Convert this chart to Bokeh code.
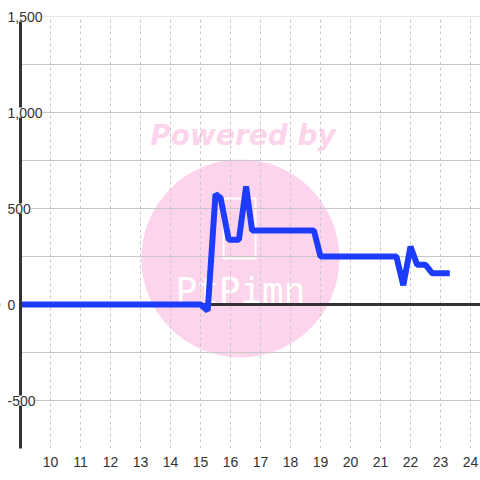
from bokeh.plotting import figure
from bokeh.models import Range1d, FixedTicker, Grid, Span, Label, LinearAxis, BoxAnnotation
from bokeh.core.properties import value
from bokeh.embed import file_html
from bokeh.resources import INLINE

# ---- data ----
x_vals = [9.0, 15.0, 15.24, 15.5, 15.67, 15.94, 16.28, 16.52, 16.72, 18.78,
          19.0, 21.53, 21.76, 22.0, 22.22, 22.5, 22.72, 23.31]
y_vals = [0, 0, -32, 575, 555, 337, 337, 615, 385, 385,
          250, 250, 100, 302, 207, 207, 163, 163]
x_ticks = list(range(10, 25))
y_ticks = [-750, -500, -250, 0, 250, 500, 750, 1000, 1250, 1500]
y_label_ticks = [1500, 1000, 500, 0, -500]
y_label_texts = ["1,500", "1,000", "500", "0", "-500"]
X_MIN, X_MAX = 9, 9 + 460 / 30
Y_MIN, Y_MAX = -750, 1500

PINK = "#fcd5ec"
BLUE = "#1e3cff"
GRID = "#c8c8c8"
DARK = "#333333"

PX_Y = 432 / (Y_MAX - Y_MIN)
p = figure(width=480, height=480, output_backend="svg", toolbar_location=None,
           x_range=Range1d(X_MIN - 20 / 30, X_MAX),
           y_range=Range1d(Y_MIN, Y_MAX + 16 / PX_Y),
           x_axis_location=None, y_axis_location=None,
           min_border_left=0, min_border_right=0, min_border_top=0, min_border_bottom=32)
p.outline_line_color = None
p.background_fill_color = "white"
p.border_fill_color = "white"
for g in list(p.center):
    if isinstance(g, Grid):
        p.center.remove(g)

xaxis = LinearAxis(ticker=FixedTicker(ticks=x_ticks))
xaxis.axis_line_color = None
xaxis.major_tick_line_color = None
xaxis.minor_tick_line_color = None
xaxis.major_label_standoff = 2
xaxis.major_label_text_font = "Liberation Sans"
xaxis.major_label_text_font_size = "14px"
xaxis.major_label_text_color = DARK
p.add_layout(xaxis, "below")

p.add_layout(Grid(dimension=0, ticker=FixedTicker(ticks=x_ticks),
                  grid_line_color=GRID, grid_line_dash="3 3", grid_line_width=1))
p.add_layout(Grid(dimension=1, ticker=FixedTicker(ticks=y_ticks),
                  grid_line_color=GRID, grid_line_width=1))

# ---- watermark ----
wm_c = p.scatter(x=[16.33], y=[240], size=198, marker="circle",
                 fill_color=PINK, line_color=None)
wm_c.level = "image"
wm_r = p.rect(x=[16.3], y=[396], width=32, height=60, width_units="screen",
              height_units="screen", fill_color=None, line_color="white", line_width=2)
wm_r.level = "image"
wm_t1 = p.text(x=[16.42], y=[880], text=["Powered by"], text_align="center",
               text_baseline="alphabetic", text_font=value("DejaVu Sans"),
               text_font_style="bold italic", text_font_size="28px", text_color=PINK)
wm_t1.level = "image"
wm_t2 = p.text(x=[16.33], y=[73], text=["PtPimn"], text_align="center",
               text_baseline="middle", text_font=value("DejaVu Sans Mono"),
               text_font_size="36px", text_color="white")
wm_t2.level = "image"

# mask grid outside the plotting area (left strip and top strip)
p.add_layout(BoxAnnotation(bottom=Y_MAX, fill_color="white", fill_alpha=1,
                           line_color=None, level="underlay"))
p.add_layout(Span(location=0, dimension="width", line_color=DARK, line_width=3, level="underlay"))
p.add_layout(BoxAnnotation(right=X_MIN, fill_color="white", fill_alpha=1,
                           line_color=None, level="underlay"))

p.line(x_vals, y_vals, line_color=BLUE, line_width=6, line_join="bevel")

yaxis_line = p.segment(x0=[X_MIN], y0=[Y_MIN], x1=[X_MIN], y1=[Y_MAX],
                       line_color=DARK, line_width=3)
yaxis_line.level = "guide"
for t, s in zip(y_label_ticks, y_label_texts):
    p.add_layout(Label(x=X_MIN, y=t, x_offset=-13, text=s, text_align="left",
                       text_baseline="middle", text_font="Liberation Sans",
                       text_font_size="14px", text_color=DARK,
                       background_fill_color="white"))

open("out.html", "w").write(file_html(p, INLINE))
